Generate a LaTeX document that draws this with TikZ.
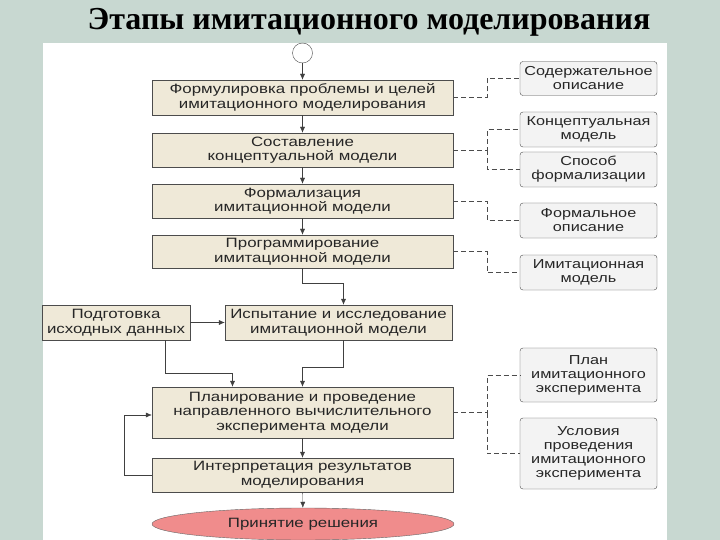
\documentclass[tikz,border=0pt]{standalone}
\usepackage{fontspec}
\setmainfont[FakeStretch=1.25]{Liberation Sans}
\newfontfamily\titlefont{Liberation Serif}
\usetikzlibrary{arrows.meta,shapes.geometric}
\definecolor{slidebg}{HTML}{C8D8D1}
\definecolor{stagefill}{HTML}{EFE9D8}
\definecolor{resultfill}{HTML}{F3F3F3}
\definecolor{endfill}{HTML}{F08C8C}
\tikzset{
    stage/.style={draw=black!70, fill=stagefill, align=center, inner sep=0pt,
        minimum width=301pt, text=black!85, font=\fontsize{13.5}{14.5}\selectfont},
    result/.style={draw=black!70, fill=resultfill, rounded corners=3pt, align=center,
        inner sep=0pt, minimum width=137pt, minimum height=35pt, text=black!85,
        font=\fontsize{13}{14}\selectfont},
    flow/.style={draw=black!75, -{Latex[length=6pt,width=5pt]}},
    link/.style={draw=black!70, dash pattern=on 5pt off 3pt},
}
\begin{document}
\begin{tikzpicture}[x=1pt,y=-1pt]
    \useasboundingbox (0,0) rectangle (720,540);
    % Slide
        \fill[slidebg] (0,0) rectangle (720,540);
        \fill[white] (43,43) rectangle (667,540);
        \node[font=\titlefont\bfseries\fontsize{32}{36}\selectfont] (title) at (369,22) {Этапы имитационного моделирования};
    % Stages
        \node[circle, draw=black!70, fill=white, minimum size=20pt, inner sep=0pt] (start) at (302.5,53) {};
        \node[stage, minimum height=35pt] (problem) at (302.5,97.5) {Формулировка проблемы и целей\\имитационного моделирования};
        \node[stage, minimum height=34pt] (concept) at (302.5,150) {Составление\\концептуальной модели};
        \node[stage, minimum height=34pt] (formal) at (302.5,201) {Формализация\\имитационной модели};
        \node[stage, minimum height=33pt] (program) at (302.5,251.5) {Программирование\\имитационной модели};
        \node[stage, minimum width=148pt, minimum height=35pt] (data) at (116,322.5) {Подготовка\\исходных данных};
        \node[stage, minimum width=227pt, minimum height=35pt] (test) at (338.5,322.5) {Испытание и исследование\\имитационной модели};
        \node[stage, minimum height=51pt] (plan) at (302.5,412.5) {Планирование и проведение\\направленного вычислительного\\эксперимента модели};
        \node[stage, minimum height=34pt] (interp) at (302.5,475) {Интерпретация результатов\\моделирования};
        \node[ellipse, draw=black!60, fill=endfill, minimum width=302pt, minimum height=32pt, inner sep=0pt,
            text=black!85, font=\fontsize{13.5}{14.5}\selectfont] (decision) at (303,524) {Принятие решения};
    % Results
        \node[result, minimum height=34pt] (content) at (588.5,78.5) {Содержательное\\описание};
        \node[result] (cmodel) at (588.5,129.5) {Концептуальная\\модель};
        \node[result] (formway) at (588.5,169.5) {Способ\\формализации};
        \node[result] (fdescr) at (588.5,220.5) {Формальное\\описание};
        \node[result] (imodel) at (588.5,272.5) {Имитационная\\модель};
        \node[result, minimum height=54pt] (planexp) at (588.5,375) {План\\имитационного\\эксперимента};
        \node[result, minimum height=71pt] (cond) at (588.5,453.5) {Условия\\проведения\\имитационного\\эксперимента};
    % Flow
        \draw[flow] (start) -- (problem);
        \draw[flow] (problem) -- (concept);
        \draw[flow] (concept) -- (formal);
        \draw[flow] (formal) -- (program);
        \draw[flow] (program.south) -- ++(0,15) -| ([xshift=5pt]test.north);
        \draw[flow] (data) -- (test);
        \draw[flow] ([xshift=49pt]data.south) |- ([xshift=-70pt,yshift=14pt]plan.north) -- ([xshift=-70pt]plan.north);
        \draw[flow] ([xshift=5pt]test.south) |- ([yshift=20pt]plan.north) -- (plan.north);
        \draw[flow] (plan) -- (interp);
        \draw[flow] (interp) -- (decision);
        \draw[flow] (interp.west) -- ++(-28,0) |- ([yshift=-2.5pt]plan.west);
    % Links
        \draw[link] (problem.east) -- ++(34,0) |- (content.west);
        \draw[link] (concept.east) -- ++(34,0) coordinate (fork2) |- (cmodel.west);
        \draw[link] (fork2) |- (formway.west);
        \draw[link] (formal.east) -- ++(34,0) |- (fdescr.west);
        \draw[link] (program.east) -- ++(34,0) |- (imodel.west);
        \draw[link] (plan.east) -- ++(34,0) coordinate (fork7) |- (planexp.west);
        \draw[link] (fork7) |- (cond.west);
\end{tikzpicture}
\end{document}
